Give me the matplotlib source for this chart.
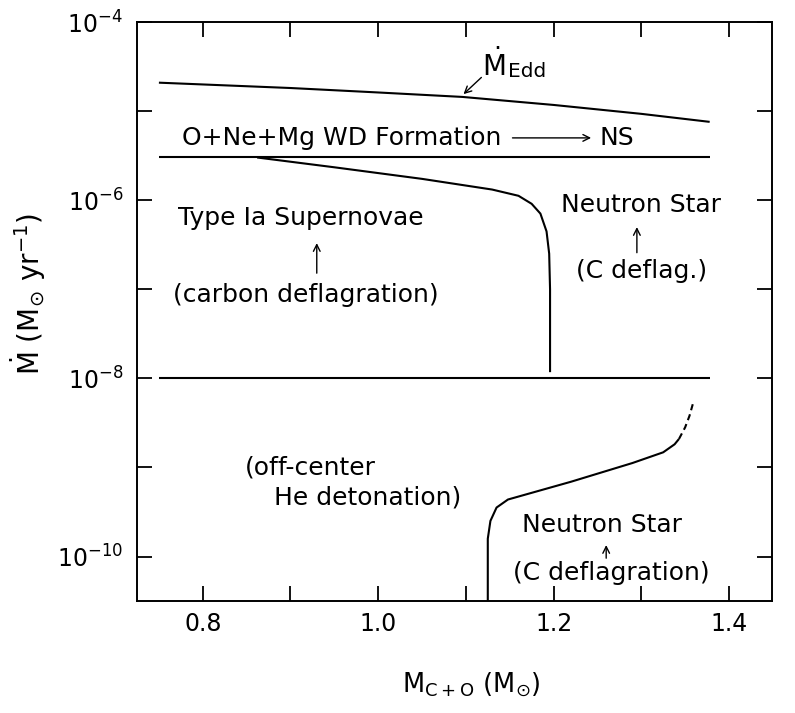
import numpy as np
import matplotlib
matplotlib.use("Agg")
import matplotlib.pyplot as plt
from matplotlib.ticker import FixedLocator, NullLocator

plt.rcParams['font.family'] = ['DejaVu Sans']
plt.rcParams['mathtext.default'] = 'regular'
plt.rcParams['mathtext.fontset'] = 'dejavusans'

# ---- data (log10 of accretion rate) ----
edd_x = [0.75, 0.90, 1.00, 1.096, 1.20, 1.30, 1.378]
edd_logy = [-4.68, -4.74, -4.79, -4.84, -4.93, -5.03, -5.12]

upper_lim_x = [0.75, 1.378]
upper_lim_logy = [-5.52, -5.52]

lower_lim_x = [0.75, 1.378]
lower_lim_logy = [-8.0, -8.0]

snia_x = [0.862, 0.95, 1.05, 1.13, 1.16, 1.175, 1.185, 1.192, 1.195, 1.196, 1.196]
snia_logy = [-5.52, -5.63, -5.76, -5.88, -5.95, -6.04, -6.15, -6.35, -6.6, -7.0, -7.93]

he_x = [1.125, 1.125, 1.128, 1.135, 1.148, 1.22, 1.29, 1.325, 1.338, 1.343]
he_logy = [-10.6, -9.8, -9.6, -9.45, -9.36, -9.16, -8.95, -8.83, -8.74, -8.68]

he_dash_x = [1.343, 1.350, 1.355, 1.359]
he_dash_logy = [-8.68, -8.55, -8.42, -8.28]

x_ticks = [0.8, 0.9, 1.0, 1.1, 1.2, 1.3, 1.4]
x_ticklabels = ['0.8', '', '1.0', '', '1.2', '', '1.4']
y_tick_exps = [-4, -5, -6, -7, -8, -9, -10]
y_label_exps = [-4, -6, -8, -10]

fig = plt.figure(figsize=(7.95, 7.13), dpi=100)
ax = fig.add_axes([0.1723, 0.157, 0.7987, 0.812])
ax.set_yscale('log')
ax.set_xlim(0.725, 1.449)
ax.set_ylim(10**-10.5, 1e-4)

lw = 1.5
def P(x, ly, **kw):
    ax.plot(x, 10**np.array(ly), color='black', lw=lw, solid_capstyle='butt', **kw)

P(edd_x, edd_logy)
P(upper_lim_x, upper_lim_logy)
P(lower_lim_x, lower_lim_logy)
P(snia_x, snia_logy)
P(he_x, he_logy)
P(he_dash_x, he_dash_logy, linestyle=(0, (3, 2)))

# ticks
ax.xaxis.set_major_locator(FixedLocator(x_ticks))
ax.set_xticklabels(x_ticklabels)
ax.xaxis.set_minor_locator(NullLocator())
ax.yaxis.set_major_locator(FixedLocator([10.0**e for e in y_tick_exps]))
ax.yaxis.set_minor_locator(NullLocator())
ax.set_yticklabels([(r'$10^{%d}$' % e) if e in y_label_exps else '' for e in y_tick_exps])
ax.tick_params(axis='both', which='major', direction='in', length=11, width=1.3,
               top=True, right=True, labelsize=17)
ax.tick_params(axis='x', pad=8)
ax.tick_params(axis='y', pad=10)
for s in ax.spines.values():
    s.set_linewidth(1.4)

ax.set_xlabel(r'$M_{C+O}\ (M_{\odot})$', fontsize=18.5)
ax.xaxis.set_label_coords(0.526, -0.12)
ax.set_ylabel(r'$\dot{M}\ (M_{\odot}\ yr^{-1})$', fontsize=20)
ax.yaxis.set_label_coords(-0.14, 0.53)

fs = 18
T = dict(fontsize=fs, color='black')
aw = dict(arrowstyle='->', lw=1.0, color='black', mutation_scale=12)
# Eddington label
ax.text(1.118, 10**-4.48, r'$\dot{M}$', ha='left', va='center', fontsize=20, color='black')
ax.text(1.148, 10**-4.56, 'Edd', ha='left', va='center', fontsize=14.5, color='black')
ax.annotate('', xy=(1.095, 10**-4.83), xytext=(1.12, 10**-4.6), arrowprops=aw)

ax.text(0.776, 10**-5.3, 'O+Ne+Mg WD Formation', ha='left', va='center', **T)
ax.annotate('', xy=(1.246, 10**-5.3), xytext=(1.150, 10**-5.3), arrowprops=aw)
ax.text(1.272, 10**-5.3, 'NS', ha='center', va='center', **T)

ax.text(0.912, 10**-6.2, 'Type Ia Supernovae', ha='center', va='center', **T)
ax.annotate('', xy=(0.93, 10**-6.45), xytext=(0.93, 10**-6.85), arrowprops=aw)
ax.text(0.918, 10**-7.06, '(carbon deflagration)', ha='center', va='center', **T)

ax.text(1.30, 10**-6.05, 'Neutron Star', ha='center', va='center', **T)
ax.annotate('', xy=(1.295, 10**-6.27), xytext=(1.295, 10**-6.62), arrowprops=aw)
ax.text(1.30, 10**-6.8, '(C deflag.)', ha='center', va='center', **T)

ax.text(0.848, 10**-9.0, '(off-center', ha='left', va='center', **T)
ax.text(1.095, 10**-9.34, 'He detonation)', ha='right', va='center', **T)

ax.text(1.255, 10**-9.65, 'Neutron Star', ha='center', va='center', **T)
ax.annotate('', xy=(1.26, 10**-9.84), xytext=(1.26, 10**-10.05), arrowprops=aw)
ax.text(1.266, 10**-10.18, '(C deflagration)', ha='center', va='center', **T)

fig.savefig('out.png', dpi=100)
